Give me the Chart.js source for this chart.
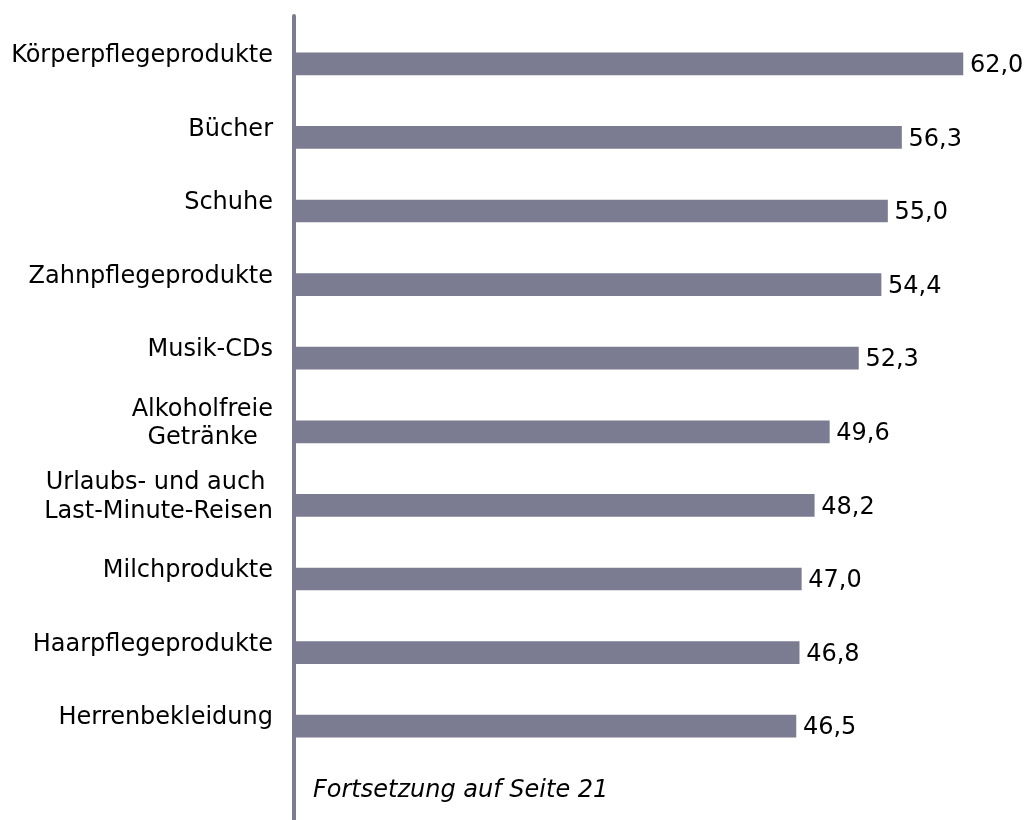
<!DOCTYPE html>
<html>
<head>
<meta charset="utf-8">
<script src="https://cdn.jsdelivr.net/npm/chart.js@4"></script>
<style>
  body { margin: 0; background: #fff; }
</style>
</head>
<body>
<canvas id="myChart" width="1026" height="820"></canvas>
<script>
const categories = [
	'Körperpflegeprodukte',
	'Bücher',
	'Schuhe',
	'Zahnpflegeprodukte',
	'Musik-CDs',
	['Alkoholfreie', 'Getränke  '],
	['Urlaubs- und auch ', 'Last-Minute-Reisen'],
	'Milchprodukte',
	'Haarpflegeprodukte',
	'Herrenbekleidung'
];
const values = [62.0, 56.3, 55.0, 54.4, 52.3, 49.6, 48.2, 47.0, 46.8, 46.5];
const footNote = 'Fortsetzung auf Seite 21';

const barColor = '#7b7b91';
const fontFamily = '"DejaVu Sans", Verdana, sans-serif';

// axis line, value labels and footnote
const extras = {
	id: 'extras',
	afterDraw(chart) {
		const ctx = chart.ctx;
		const area = chart.chartArea;
		ctx.save();
		ctx.strokeStyle = barColor;
		ctx.lineWidth = 4;
		ctx.lineCap = 'round';
		ctx.beginPath();
		ctx.moveTo(area.left - 1, 16);
		ctx.lineTo(area.left - 1, chart.height + 4);
		ctx.stroke();

		ctx.fillStyle = '#000';
		ctx.font = '24px ' + fontFamily;
		ctx.textAlign = 'left';
		ctx.textBaseline = 'middle';
		chart.getDatasetMeta(0).data.forEach((bar, i) => {
			ctx.fillText(values[i].toFixed(1).replace('.', ','), bar.x + 7, bar.y + 2);
		});

		ctx.font = 'italic 24px ' + fontFamily;
		ctx.textBaseline = 'alphabetic';
		ctx.fillText(footNote, area.left + 18, area.bottom + 34);
		ctx.restore();
	}
};

const config = {
	type: 'bar',
	data: {
		labels: categories,
		datasets: [{
			data: values,
			backgroundColor: barColor,
			barThickness: 22,
			categoryPercentage: 1
		}]
	},
	options: {
		indexAxis: 'y',
		responsive: false,
		animation: false,
		layout: { padding: { top: 27, bottom: 57, right: 20, left: 0 } },
		plugins: {
			legend: { display: false },
			tooltip: { enabled: false }
		},
		scales: {
			x: {
				display: false,
				min: 0,
				max: 66
			},
			y: {
				afterFit(scale) {
					scale.width = 295;
					scale.paddingTop = 0;
					scale.paddingBottom = 0;
				},
				grid: { display: false, drawTicks: false },
				border: { display: false },
				ticks: {
					padding: 22,
					labelOffset: -8,
					color: '#000',
					font: { family: fontFamily, size: 24, lineHeight: 1.2 }
				}
			}
		}
	},
	plugins: [extras]
};

new Chart(document.getElementById('myChart'), config);
</script>
</body>
</html>
